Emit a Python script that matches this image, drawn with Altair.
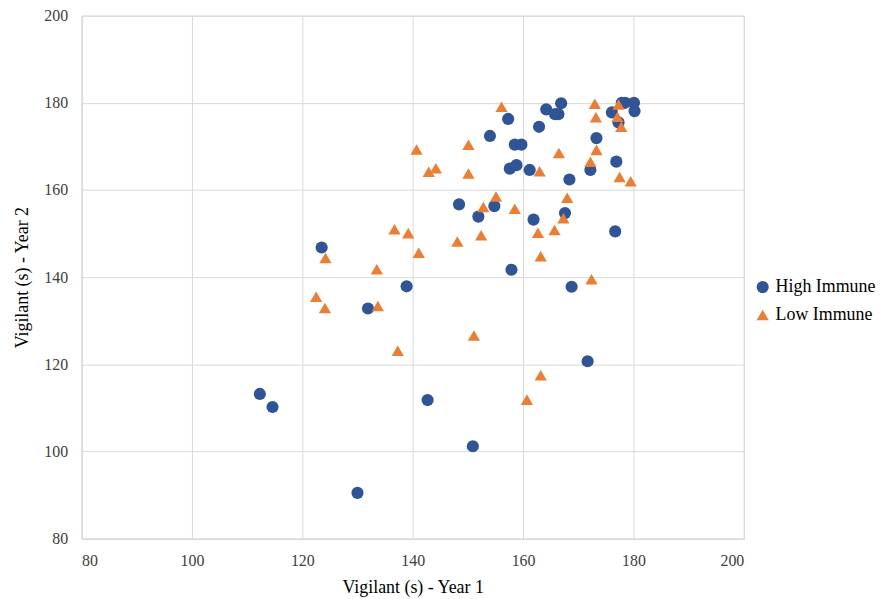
import altair as alt
import pandas as pd

high_x = [123.5, 138.9, 131.9, 112.3, 114.6, 142.7, 150.9, 130.0, 148.4, 154.8,
          151.9, 157.9, 161.9, 167.6, 176.7, 168.8, 171.7, 168.4, 157.3, 154.0,
          158.5, 159.7, 157.6, 158.8, 161.2, 162.9, 164.2, 165.8, 166.4, 166.9,
          176.1, 177.9, 178.5, 180.1, 180.2, 177.3, 173.3, 172.2, 176.9]
high_y = [146.8, 137.9, 132.8, 113.2, 110.2, 111.8, 101.2, 90.5, 156.7, 156.3,
          153.9, 141.7, 153.2, 154.7, 150.5, 137.8, 120.7, 162.4, 176.3, 172.4,
          170.4, 170.4, 164.9, 165.7, 164.6, 174.5, 178.5, 177.4, 177.4, 179.9,
          177.8, 180.0, 180.0, 180.0, 178.1, 175.5, 171.9, 164.6, 166.5]

low_x = [124.2, 133.5, 122.5, 124.1, 133.7, 137.3, 151.1, 141.1, 148.1, 152.4,
         136.7, 139.2, 140.7, 142.9, 144.2, 150.1, 150.1, 152.8, 155.1, 158.5,
         163.2, 160.7, 162.7, 165.7, 163.2, 167.3, 168.0, 172.4, 156.1, 163.0,
         173.0, 173.2, 177.3, 177.1, 177.8, 173.3, 166.5, 172.2, 177.5, 179.5]
low_y = [144.4, 141.8, 135.5, 132.9, 133.4, 123.1, 126.6, 145.6, 148.2, 149.6,
         151.0, 150.1, 169.3, 164.2, 165.0, 170.4, 163.8, 156.1, 158.5, 155.7,
         117.5, 111.9, 150.2, 150.8, 144.8, 153.5, 158.2, 139.5, 179.1, 164.3,
         179.8, 176.7, 179.6, 176.8, 174.5, 169.2, 168.5, 166.5, 163.0, 162.0]

groups = ["High Immune", "Low Immune"]

df = pd.concat([
    pd.DataFrame({"x": high_x, "y": high_y, "g": groups[0]}),
    pd.DataFrame({"x": low_x, "y": low_y, "g": groups[1]}),
])

font = "Liberation Serif"

leg = alt.Legend(title=None, orient="none", legendX=676, legendY=264,
                 labelFont=font, labelFontSize=18, labelColor="#000000",
                 symbolSize=150, rowPadding=10, labelOffset=4)

chart = alt.Chart(df).mark_point(filled=True, opacity=1, size=150).encode(
    x=alt.X("x:Q", title="Vigilant  (s) - Year 1",
            scale=alt.Scale(domain=[80, 200], nice=False, zero=False),
            axis=alt.Axis(values=[80, 100, 120, 140, 160, 180, 200], labelPadding=14,
                          titlePadding=10)),
    y=alt.Y("y:Q", title="Vigilant  (s) - Year 2",
            scale=alt.Scale(domain=[80, 200], nice=False, zero=False),
            axis=alt.Axis(values=[80, 100, 120, 140, 160, 180, 200], labelPadding=14,
                          titlePadding=12)),
    color=alt.Color("g:N", scale=alt.Scale(domain=groups, range=["#2F5597", "#ED7D31"]),
                    legend=leg),
    shape=alt.Shape("g:N", scale=alt.Scale(domain=groups, range=["circle", "triangle-up"]),
                    legend=leg),
).properties(
    width=666, height=526,
    autosize=alt.AutoSizeParams(type="none"),
    padding={"left": 74, "top": 6, "right": 140, "bottom": 60},
).configure(
    font=font,
).configure_axis(
    grid=True, gridColor="#D9D9D9", domainColor="#D9D9D9", ticks=False,
    labelFont=font, labelFontSize=16, labelColor="#404040",
    titleFont=font, titleFontSize=18, titleFontWeight="normal", titleColor="#000000",
).configure_legend(
    labelFont=font, labelFontSize=18, labelColor="#000000",
).configure_view(stroke="#D9D9D9")

chart.save("out.html", embed_options={"renderer": "svg", "actions": False})
